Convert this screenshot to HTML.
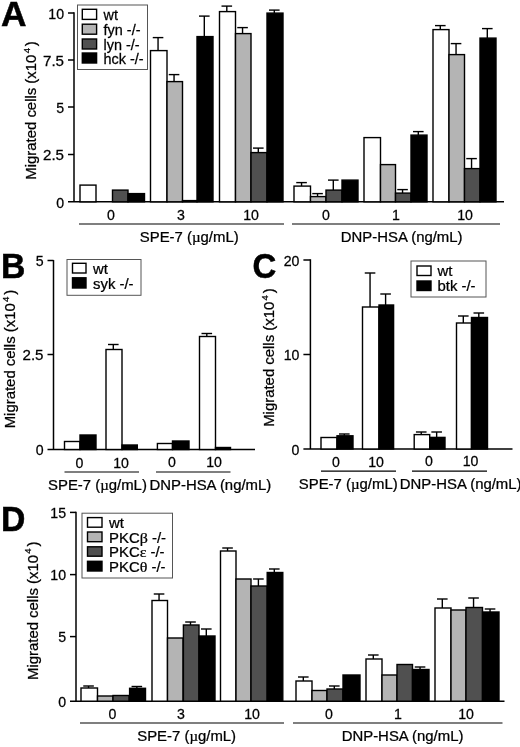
<!DOCTYPE html>
<html><head><meta charset="utf-8"><title>Figure</title>
<style>
html,body{margin:0;padding:0;background:#fff;}
svg{display:block;font-family:"Liberation Sans",sans-serif;fill:#000;}
text{stroke:#000;stroke-width:0.25px;}
</style></head>
<body>
<svg width="520" height="747" viewBox="0 0 520 747">
<rect x="0" y="0" width="520" height="747" fill="#fff"/>
<text transform="translate(1,26) scale(1.03,1)" font-size="34.3" text-anchor="start" font-weight="bold" style="stroke-width:0.5px">A</text>
<line x1="74" y1="12.25" x2="74" y2="201.8" stroke="#000" stroke-width="1.5"/>
<line x1="68" y1="201.8" x2="504" y2="201.8" stroke="#000" stroke-width="1.5"/>
<line x1="68" y1="13" x2="74" y2="13" stroke="#000" stroke-width="1.5"/>
<text transform="translate(64.0,18.8) scale(1.01,1)" font-size="14" text-anchor="end" >10</text>
<line x1="68" y1="60" x2="74" y2="60" stroke="#000" stroke-width="1.5"/>
<text transform="translate(64.0,65.8) scale(1.08,1)" font-size="14" text-anchor="end" >7.5</text>
<line x1="68" y1="107" x2="74" y2="107" stroke="#000" stroke-width="1.5"/>
<text transform="translate(64.0,112.8) scale(1.01,1)" font-size="14" text-anchor="end" >5</text>
<line x1="68" y1="154.5" x2="74" y2="154.5" stroke="#000" stroke-width="1.5"/>
<text transform="translate(64.0,160.3) scale(1.08,1)" font-size="14" text-anchor="end" >2.5</text>
<text transform="translate(64.0,207.60000000000002) scale(1.01,1)" font-size="14" text-anchor="end" >0</text>
<rect x="80" y="185.1" width="16" height="16.700000000000017" fill="#ffffff" stroke="#000" stroke-width="1.4"/>
<rect x="112.5" y="190.1" width="15.5" height="11.700000000000017" fill="#505050" stroke="#000" stroke-width="1.4"/>
<rect x="128" y="193.6" width="16.5" height="8.200000000000017" fill="#000000" stroke="#000" stroke-width="1.4"/>
<line x1="158.05" y1="37.6" x2="158.05" y2="50.6" stroke="#000" stroke-width="1.4"/>
<line x1="152.75" y1="37.6" x2="163.35000000000002" y2="37.6" stroke="#000" stroke-width="1.4"/>
<rect x="150.5" y="50.6" width="16.5" height="151.20000000000002" fill="#ffffff" stroke="#000" stroke-width="1.4"/>
<line x1="174.05" y1="74.6" x2="174.05" y2="81.6" stroke="#000" stroke-width="1.4"/>
<line x1="168.75" y1="74.6" x2="179.35000000000002" y2="74.6" stroke="#000" stroke-width="1.4"/>
<rect x="167" y="81.6" width="15.5" height="120.20000000000002" fill="#b4b4b4" stroke="#000" stroke-width="1.4"/>
<rect x="182.5" y="200.6" width="14.5" height="1.200000000000017" fill="#505050" stroke="#000" stroke-width="1.4"/>
<line x1="204.3" y1="16.1" x2="204.3" y2="36.6" stroke="#000" stroke-width="1.4"/>
<line x1="199.0" y1="16.1" x2="209.60000000000002" y2="16.1" stroke="#000" stroke-width="1.4"/>
<rect x="197" y="36.6" width="16" height="165.20000000000002" fill="#000000" stroke="#000" stroke-width="1.4"/>
<line x1="226.8" y1="6.1" x2="226.8" y2="11.6" stroke="#000" stroke-width="1.4"/>
<line x1="221.5" y1="6.1" x2="232.10000000000002" y2="6.1" stroke="#000" stroke-width="1.4"/>
<rect x="219.5" y="11.6" width="16.0" height="190.20000000000002" fill="#ffffff" stroke="#000" stroke-width="1.4"/>
<line x1="242.55" y1="27.6" x2="242.55" y2="33.6" stroke="#000" stroke-width="1.4"/>
<line x1="237.25" y1="27.6" x2="247.85000000000002" y2="27.6" stroke="#000" stroke-width="1.4"/>
<rect x="235.5" y="33.6" width="15.5" height="168.20000000000002" fill="#b4b4b4" stroke="#000" stroke-width="1.4"/>
<line x1="258.3" y1="148.1" x2="258.3" y2="152.6" stroke="#000" stroke-width="1.4"/>
<line x1="253.0" y1="148.1" x2="263.6" y2="148.1" stroke="#000" stroke-width="1.4"/>
<rect x="251" y="152.6" width="16" height="49.20000000000002" fill="#505050" stroke="#000" stroke-width="1.4"/>
<line x1="274.3" y1="10.1" x2="274.3" y2="13.1" stroke="#000" stroke-width="1.4"/>
<line x1="269.0" y1="10.1" x2="279.6" y2="10.1" stroke="#000" stroke-width="1.4"/>
<rect x="267" y="13.1" width="16" height="188.70000000000002" fill="#000000" stroke="#000" stroke-width="1.4"/>
<line x1="301.55" y1="182.6" x2="301.55" y2="186.1" stroke="#000" stroke-width="1.4"/>
<line x1="296.25" y1="182.6" x2="306.85" y2="182.6" stroke="#000" stroke-width="1.4"/>
<rect x="294" y="186.1" width="16.5" height="15.700000000000017" fill="#ffffff" stroke="#000" stroke-width="1.4"/>
<line x1="317.55" y1="193.6" x2="317.55" y2="196.6" stroke="#000" stroke-width="1.4"/>
<line x1="312.25" y1="193.6" x2="322.85" y2="193.6" stroke="#000" stroke-width="1.4"/>
<rect x="310.5" y="196.6" width="15.5" height="5.200000000000017" fill="#b4b4b4" stroke="#000" stroke-width="1.4"/>
<line x1="333.3" y1="180.1" x2="333.3" y2="190.1" stroke="#000" stroke-width="1.4"/>
<line x1="328.0" y1="180.1" x2="338.6" y2="180.1" stroke="#000" stroke-width="1.4"/>
<rect x="326" y="190.1" width="16" height="11.700000000000017" fill="#505050" stroke="#000" stroke-width="1.4"/>
<rect x="342" y="180.1" width="16" height="21.700000000000017" fill="#000000" stroke="#000" stroke-width="1.4"/>
<rect x="364" y="137.6" width="16.5" height="64.20000000000002" fill="#ffffff" stroke="#000" stroke-width="1.4"/>
<rect x="380.5" y="164.6" width="15.0" height="37.20000000000002" fill="#b4b4b4" stroke="#000" stroke-width="1.4"/>
<line x1="402.55" y1="189.6" x2="402.55" y2="193.1" stroke="#000" stroke-width="1.4"/>
<line x1="397.25" y1="189.6" x2="407.85" y2="189.6" stroke="#000" stroke-width="1.4"/>
<rect x="395.5" y="193.1" width="15.5" height="8.700000000000017" fill="#505050" stroke="#000" stroke-width="1.4"/>
<line x1="418.3" y1="131.6" x2="418.3" y2="135.1" stroke="#000" stroke-width="1.4"/>
<line x1="413.0" y1="131.6" x2="423.6" y2="131.6" stroke="#000" stroke-width="1.4"/>
<rect x="411" y="135.1" width="16" height="66.70000000000002" fill="#000000" stroke="#000" stroke-width="1.4"/>
<line x1="440.3" y1="25.6" x2="440.3" y2="29.6" stroke="#000" stroke-width="1.4"/>
<line x1="435.0" y1="25.6" x2="445.6" y2="25.6" stroke="#000" stroke-width="1.4"/>
<rect x="433" y="29.6" width="16" height="172.20000000000002" fill="#ffffff" stroke="#000" stroke-width="1.4"/>
<line x1="456.05" y1="43.6" x2="456.05" y2="54.6" stroke="#000" stroke-width="1.4"/>
<line x1="450.75" y1="43.6" x2="461.35" y2="43.6" stroke="#000" stroke-width="1.4"/>
<rect x="449" y="54.6" width="15.5" height="147.20000000000002" fill="#b4b4b4" stroke="#000" stroke-width="1.4"/>
<line x1="471.55" y1="158.6" x2="471.55" y2="168.6" stroke="#000" stroke-width="1.4"/>
<line x1="466.25" y1="158.6" x2="476.85" y2="158.6" stroke="#000" stroke-width="1.4"/>
<rect x="464.5" y="168.6" width="15.5" height="33.20000000000002" fill="#505050" stroke="#000" stroke-width="1.4"/>
<line x1="487.3" y1="28.6" x2="487.3" y2="38.1" stroke="#000" stroke-width="1.4"/>
<line x1="482.0" y1="28.6" x2="492.6" y2="28.6" stroke="#000" stroke-width="1.4"/>
<rect x="480" y="38.1" width="16" height="163.70000000000002" fill="#000000" stroke="#000" stroke-width="1.4"/>
<text transform="translate(111,219.6) scale(1.01,1)" font-size="14" text-anchor="middle" >0</text>
<text transform="translate(181,219.6) scale(1.01,1)" font-size="14" text-anchor="middle" >3</text>
<text transform="translate(251,219.6) scale(1.01,1)" font-size="14" text-anchor="middle" >10</text>
<text transform="translate(326,219.6) scale(1.01,1)" font-size="14" text-anchor="middle" >0</text>
<text transform="translate(396,219.6) scale(1.01,1)" font-size="14" text-anchor="middle" >1</text>
<text transform="translate(465,219.6) scale(1.01,1)" font-size="14" text-anchor="middle" >10</text>
<line x1="79" y1="224" x2="284" y2="224" stroke="#000" stroke-width="1.2"/>
<line x1="292" y1="224" x2="500" y2="224" stroke="#000" stroke-width="1.2"/>
<text transform="translate(139.8,242) scale(1.065,1)" font-size="14" text-anchor="start" >SPE-7 (<tspan font-family="Liberation Serif,serif">µ</tspan>g/mL)</text>
<text transform="translate(340.8,242) scale(1.065,1)" font-size="14" text-anchor="start" >DNP-HSA (ng/mL)</text>
<text transform="translate(36.1,179.7) rotate(-90) scale(1.065,1)" font-size="14" text-anchor="start" >Migrated cells (x10<tspan font-size="9" dy="-6.4" dx="1.2">4</tspan><tspan dy="6.4" dx="1.8">)</tspan></text>
<rect x="77.5" y="5" width="70.0" height="64.5" fill="#fff" stroke="#555" stroke-width="1"/>
<rect x="82.3" y="9.3" width="14.299999999999997" height="10.099999999999998" fill="#ffffff" stroke="#000" stroke-width="1.4"/>
<text transform="translate(103.6,20.2) scale(1.03,1)" font-size="14" text-anchor="start" >wt</text>
<rect x="82.3" y="24.2" width="14.299999999999997" height="10.000000000000004" fill="#b4b4b4" stroke="#000" stroke-width="1.4"/>
<text transform="translate(103.6,35.0) scale(1.03,1)" font-size="14" text-anchor="start" >fyn -/-</text>
<rect x="82.3" y="39" width="14.299999999999997" height="10" fill="#505050" stroke="#000" stroke-width="1.4"/>
<text transform="translate(103.6,49.8) scale(1.03,1)" font-size="14" text-anchor="start" >lyn -/-</text>
<rect x="82.3" y="53" width="14.299999999999997" height="10" fill="#000000" stroke="#000" stroke-width="1.4"/>
<text transform="translate(103.6,63.8) scale(1.03,1)" font-size="14" text-anchor="start" >hck -/-</text>
<text transform="translate(1,277.9) scale(0.985,1)" font-size="34.3" text-anchor="start" font-weight="bold" style="stroke-width:0.5px">B</text>
<line x1="53.5" y1="260.05" x2="53.5" y2="449.5" stroke="#000" stroke-width="1.5"/>
<line x1="47.5" y1="449.5" x2="255" y2="449.5" stroke="#000" stroke-width="1.5"/>
<line x1="47.5" y1="260.5" x2="53.5" y2="260.5" stroke="#000" stroke-width="1.5"/>
<text transform="translate(43.5,266.3) scale(1.01,1)" font-size="14" text-anchor="end" >5</text>
<line x1="47.5" y1="354.5" x2="53.5" y2="354.5" stroke="#000" stroke-width="1.5"/>
<text transform="translate(43.5,360.3) scale(1.08,1)" font-size="14" text-anchor="end" >2.5</text>
<text transform="translate(43.5,455.3) scale(1.01,1)" font-size="14" text-anchor="end" >0</text>
<rect x="64.5" y="441.5" width="15.5" height="8.0" fill="#ffffff" stroke="#000" stroke-width="1.4"/>
<rect x="80" y="435.0" width="16" height="14.5" fill="#000000" stroke="#000" stroke-width="1.4"/>
<line x1="113.3" y1="344.5" x2="113.3" y2="349.5" stroke="#000" stroke-width="1.4"/>
<line x1="108.0" y1="344.5" x2="118.6" y2="344.5" stroke="#000" stroke-width="1.4"/>
<rect x="106" y="349.5" width="16" height="100.0" fill="#ffffff" stroke="#000" stroke-width="1.4"/>
<rect x="122" y="445.0" width="15.300000000000011" height="4.5" fill="#000000" stroke="#000" stroke-width="1.4"/>
<rect x="157.4" y="443.5" width="15.099999999999994" height="6.0" fill="#ffffff" stroke="#000" stroke-width="1.4"/>
<rect x="172.5" y="441.0" width="16.5" height="8.5" fill="#000000" stroke="#000" stroke-width="1.4"/>
<line x1="206.8" y1="333.5" x2="206.8" y2="336.5" stroke="#000" stroke-width="1.4"/>
<line x1="201.5" y1="333.5" x2="212.10000000000002" y2="333.5" stroke="#000" stroke-width="1.4"/>
<rect x="199.5" y="336.5" width="16.0" height="113.0" fill="#ffffff" stroke="#000" stroke-width="1.4"/>
<rect x="215.5" y="447.5" width="15.0" height="2.0" fill="#000000" stroke="#000" stroke-width="1.4"/>
<text transform="translate(79.5,468) scale(1.01,1)" font-size="14" text-anchor="middle" >0</text>
<text transform="translate(121,468) scale(1.01,1)" font-size="14" text-anchor="middle" >10</text>
<text transform="translate(172,466.5) scale(1.01,1)" font-size="14" text-anchor="middle" >0</text>
<text transform="translate(214,466.5) scale(1.01,1)" font-size="14" text-anchor="middle" >10</text>
<line x1="64.5" y1="472" x2="139" y2="472" stroke="#000" stroke-width="1.2"/>
<line x1="156" y1="472" x2="230.5" y2="472" stroke="#000" stroke-width="1.2"/>
<text transform="translate(48,489.5) scale(1.065,1)" font-size="14" text-anchor="start" >SPE-7 (<tspan font-family="Liberation Serif,serif">µ</tspan>g/mL)</text>
<text transform="translate(149.5,489.5) scale(1.065,1)" font-size="14" text-anchor="start" >DNP-HSA (ng/mL)</text>
<text transform="translate(15,428.3) rotate(-90) scale(1.065,1)" font-size="14" text-anchor="start" >Migrated cells (x10<tspan font-size="9" dy="-6.4" dx="1.2">4</tspan><tspan dy="6.4" dx="1.8">)</tspan></text>
<rect x="67" y="259.5" width="74" height="35.80000000000001" fill="#fff" stroke="#555" stroke-width="1"/>
<rect x="72.5" y="263.3" width="13.5" height="9.699999999999989" fill="#ffffff" stroke="#000" stroke-width="1.4"/>
<text transform="translate(93,273.8) scale(1.065,1)" font-size="14" text-anchor="start" >wt</text>
<rect x="72.5" y="277.8" width="13.5" height="10.199999999999989" fill="#000000" stroke="#000" stroke-width="1.4"/>
<text transform="translate(93,288.8) scale(1.065,1)" font-size="14" text-anchor="start" >syk -/-</text>
<text transform="translate(252.5,277.8) scale(0.96,1)" font-size="34.3" text-anchor="start" font-weight="bold" style="stroke-width:0.5px">C</text>
<line x1="310.4" y1="259.25" x2="310.4" y2="449" stroke="#000" stroke-width="1.5"/>
<line x1="303.4" y1="449" x2="512.5" y2="449" stroke="#000" stroke-width="1.5"/>
<line x1="303.4" y1="260" x2="310.4" y2="260" stroke="#000" stroke-width="1.5"/>
<text transform="translate(299.4,265.8) scale(1.01,1)" font-size="14" text-anchor="end" >20</text>
<line x1="303.4" y1="354.5" x2="310.4" y2="354.5" stroke="#000" stroke-width="1.5"/>
<text transform="translate(299.4,360.3) scale(1.01,1)" font-size="14" text-anchor="end" >10</text>
<text transform="translate(299.4,454.8) scale(1.01,1)" font-size="14" text-anchor="end" >0</text>
<rect x="321" y="437.5" width="16" height="11.5" fill="#ffffff" stroke="#000" stroke-width="1.4"/>
<line x1="344.3" y1="434" x2="344.3" y2="435.8" stroke="#000" stroke-width="1.4"/>
<line x1="339.0" y1="434" x2="349.6" y2="434" stroke="#000" stroke-width="1.4"/>
<rect x="337" y="435.8" width="16" height="13.199999999999989" fill="#000000" stroke="#000" stroke-width="1.4"/>
<line x1="370.05" y1="273" x2="370.05" y2="307" stroke="#000" stroke-width="1.4"/>
<line x1="364.75" y1="273" x2="375.35" y2="273" stroke="#000" stroke-width="1.4"/>
<rect x="362.5" y="307" width="16.5" height="142" fill="#ffffff" stroke="#000" stroke-width="1.4"/>
<line x1="385.6" y1="294" x2="385.6" y2="305" stroke="#000" stroke-width="1.4"/>
<line x1="380.3" y1="294" x2="390.90000000000003" y2="294" stroke="#000" stroke-width="1.4"/>
<rect x="379" y="305" width="14.600000000000023" height="144" fill="#000000" stroke="#000" stroke-width="1.4"/>
<line x1="421.25" y1="432" x2="421.25" y2="434.6" stroke="#000" stroke-width="1.4"/>
<line x1="415.95" y1="432" x2="426.55" y2="432" stroke="#000" stroke-width="1.4"/>
<rect x="414.2" y="434.6" width="15.5" height="14.399999999999977" fill="#ffffff" stroke="#000" stroke-width="1.4"/>
<line x1="436.65000000000003" y1="432" x2="436.65000000000003" y2="437.4" stroke="#000" stroke-width="1.4"/>
<line x1="431.35" y1="432" x2="441.95000000000005" y2="432" stroke="#000" stroke-width="1.4"/>
<rect x="429.7" y="437.4" width="15.300000000000011" height="11.600000000000023" fill="#000000" stroke="#000" stroke-width="1.4"/>
<line x1="463.3" y1="316" x2="463.3" y2="323" stroke="#000" stroke-width="1.4"/>
<line x1="458.0" y1="316" x2="468.6" y2="316" stroke="#000" stroke-width="1.4"/>
<rect x="456.5" y="323" width="15.0" height="126" fill="#ffffff" stroke="#000" stroke-width="1.4"/>
<line x1="478.8" y1="313" x2="478.8" y2="317.5" stroke="#000" stroke-width="1.4"/>
<line x1="473.5" y1="313" x2="484.1" y2="313" stroke="#000" stroke-width="1.4"/>
<rect x="471.5" y="317.5" width="16.0" height="131.5" fill="#000000" stroke="#000" stroke-width="1.4"/>
<text transform="translate(336,467.4) scale(1.01,1)" font-size="14" text-anchor="middle" >0</text>
<text transform="translate(376,467.4) scale(1.01,1)" font-size="14" text-anchor="middle" >10</text>
<text transform="translate(429,466.2) scale(1.01,1)" font-size="14" text-anchor="middle" >0</text>
<text transform="translate(470.5,466.2) scale(1.01,1)" font-size="14" text-anchor="middle" >10</text>
<line x1="321" y1="471.1" x2="396" y2="471.1" stroke="#000" stroke-width="1.2"/>
<line x1="412" y1="471.1" x2="487" y2="471.1" stroke="#000" stroke-width="1.2"/>
<text transform="translate(298.8,489) scale(1.065,1)" font-size="14" text-anchor="start" >SPE-7 (<tspan font-family="Liberation Serif,serif">µ</tspan>g/mL)</text>
<text transform="translate(399.8,489) scale(1.065,1)" font-size="14" text-anchor="start" >DNP-HSA (ng/mL)</text>
<text transform="translate(274,426.8) rotate(-90) scale(1.065,1)" font-size="14" text-anchor="start" >Migrated cells (x10<tspan font-size="9" dy="-6.4" dx="1.2">4</tspan><tspan dy="6.4" dx="1.8">)</tspan></text>
<rect x="411" y="261" width="75" height="36" fill="#fff" stroke="#555" stroke-width="1"/>
<rect x="417" y="266" width="14" height="9.5" fill="#ffffff" stroke="#000" stroke-width="1.4"/>
<text transform="translate(437.5,276.3) scale(1.065,1)" font-size="14" text-anchor="start" >wt</text>
<rect x="417" y="281" width="14" height="9.5" fill="#000000" stroke="#000" stroke-width="1.4"/>
<text transform="translate(437.5,291.3) scale(1.065,1)" font-size="14" text-anchor="start" >btk -/-</text>
<text transform="translate(1,530.9) scale(0.985,1)" font-size="34.3" text-anchor="start" font-weight="bold" style="stroke-width:0.5px">D</text>
<line x1="76" y1="511.65" x2="76" y2="701.2" stroke="#000" stroke-width="1.5"/>
<line x1="70" y1="701.2" x2="504.5" y2="701.2" stroke="#000" stroke-width="1.5"/>
<line x1="70" y1="512.4" x2="76" y2="512.4" stroke="#000" stroke-width="1.5"/>
<text transform="translate(66.0,518.1999999999999) scale(1.01,1)" font-size="14" text-anchor="end" >15</text>
<line x1="70" y1="574.6" x2="76" y2="574.6" stroke="#000" stroke-width="1.5"/>
<text transform="translate(66.0,580.4) scale(1.01,1)" font-size="14" text-anchor="end" >10</text>
<line x1="70" y1="636.6" x2="76" y2="636.6" stroke="#000" stroke-width="1.5"/>
<text transform="translate(66.0,642.4) scale(1.01,1)" font-size="14" text-anchor="end" >5</text>
<text transform="translate(66.0,707.0) scale(1.01,1)" font-size="14" text-anchor="end" >0</text>
<line x1="88.55" y1="686" x2="88.55" y2="688" stroke="#000" stroke-width="1.4"/>
<line x1="83.25" y1="686" x2="93.85" y2="686" stroke="#000" stroke-width="1.4"/>
<rect x="81" y="688" width="16.5" height="13.200000000000045" fill="#ffffff" stroke="#000" stroke-width="1.4"/>
<rect x="97.5" y="696" width="15.5" height="5.2000000000000455" fill="#b4b4b4" stroke="#000" stroke-width="1.4"/>
<rect x="113" y="695.5" width="16" height="5.7000000000000455" fill="#505050" stroke="#000" stroke-width="1.4"/>
<line x1="136.85000000000002" y1="686.5" x2="136.85000000000002" y2="688.3" stroke="#000" stroke-width="1.4"/>
<line x1="131.55" y1="686.5" x2="142.15000000000003" y2="686.5" stroke="#000" stroke-width="1.4"/>
<rect x="129.6" y="688.3" width="15.900000000000006" height="12.900000000000091" fill="#000000" stroke="#000" stroke-width="1.4"/>
<line x1="159.05" y1="594" x2="159.05" y2="600.5" stroke="#000" stroke-width="1.4"/>
<line x1="153.75" y1="594" x2="164.35000000000002" y2="594" stroke="#000" stroke-width="1.4"/>
<rect x="152" y="600.5" width="15.5" height="100.70000000000005" fill="#ffffff" stroke="#000" stroke-width="1.4"/>
<rect x="167.5" y="638" width="15.5" height="63.200000000000045" fill="#b4b4b4" stroke="#000" stroke-width="1.4"/>
<line x1="190.5" y1="622" x2="190.5" y2="625" stroke="#000" stroke-width="1.4"/>
<line x1="185.2" y1="622" x2="195.8" y2="622" stroke="#000" stroke-width="1.4"/>
<rect x="183.4" y="625" width="15.599999999999994" height="76.20000000000005" fill="#505050" stroke="#000" stroke-width="1.4"/>
<line x1="206.3" y1="629" x2="206.3" y2="636" stroke="#000" stroke-width="1.4"/>
<line x1="201.0" y1="629" x2="211.60000000000002" y2="629" stroke="#000" stroke-width="1.4"/>
<rect x="199" y="636" width="16" height="65.20000000000005" fill="#000000" stroke="#000" stroke-width="1.4"/>
<line x1="227.55" y1="548" x2="227.55" y2="551" stroke="#000" stroke-width="1.4"/>
<line x1="222.25" y1="548" x2="232.85000000000002" y2="548" stroke="#000" stroke-width="1.4"/>
<rect x="220.5" y="551" width="15.5" height="150.20000000000005" fill="#ffffff" stroke="#000" stroke-width="1.4"/>
<rect x="236" y="579" width="15" height="122.20000000000005" fill="#b4b4b4" stroke="#000" stroke-width="1.4"/>
<line x1="258.40000000000003" y1="579" x2="258.40000000000003" y2="586" stroke="#000" stroke-width="1.4"/>
<line x1="253.10000000000002" y1="579" x2="263.70000000000005" y2="579" stroke="#000" stroke-width="1.4"/>
<rect x="251" y="586" width="16.19999999999999" height="115.20000000000005" fill="#505050" stroke="#000" stroke-width="1.4"/>
<line x1="274.3" y1="569" x2="274.3" y2="572.5" stroke="#000" stroke-width="1.4"/>
<line x1="269.0" y1="569" x2="279.6" y2="569" stroke="#000" stroke-width="1.4"/>
<rect x="267.2" y="572.5" width="15.600000000000023" height="128.70000000000005" fill="#000000" stroke="#000" stroke-width="1.4"/>
<line x1="303.3" y1="677" x2="303.3" y2="681" stroke="#000" stroke-width="1.4"/>
<line x1="298.0" y1="677" x2="308.6" y2="677" stroke="#000" stroke-width="1.4"/>
<rect x="296" y="681" width="16" height="20.200000000000045" fill="#ffffff" stroke="#000" stroke-width="1.4"/>
<rect x="312" y="690.5" width="15" height="10.700000000000045" fill="#b4b4b4" stroke="#000" stroke-width="1.4"/>
<line x1="334.3" y1="686" x2="334.3" y2="689" stroke="#000" stroke-width="1.4"/>
<line x1="329.0" y1="686" x2="339.6" y2="686" stroke="#000" stroke-width="1.4"/>
<rect x="327" y="689" width="16" height="12.200000000000045" fill="#505050" stroke="#000" stroke-width="1.4"/>
<rect x="343" y="675" width="17" height="26.200000000000045" fill="#000000" stroke="#000" stroke-width="1.4"/>
<line x1="373.3" y1="655" x2="373.3" y2="659" stroke="#000" stroke-width="1.4"/>
<line x1="368.0" y1="655" x2="378.6" y2="655" stroke="#000" stroke-width="1.4"/>
<rect x="366" y="659" width="16" height="42.200000000000045" fill="#ffffff" stroke="#000" stroke-width="1.4"/>
<rect x="382" y="675" width="15" height="26.200000000000045" fill="#b4b4b4" stroke="#000" stroke-width="1.4"/>
<rect x="397" y="664.5" width="15.5" height="36.700000000000045" fill="#505050" stroke="#000" stroke-width="1.4"/>
<line x1="420.05" y1="667" x2="420.05" y2="669.5" stroke="#000" stroke-width="1.4"/>
<line x1="414.75" y1="667" x2="425.35" y2="667" stroke="#000" stroke-width="1.4"/>
<rect x="412.5" y="669.5" width="16.5" height="31.700000000000045" fill="#000000" stroke="#000" stroke-width="1.4"/>
<line x1="442.3" y1="599" x2="442.3" y2="608" stroke="#000" stroke-width="1.4"/>
<line x1="437.0" y1="599" x2="447.6" y2="599" stroke="#000" stroke-width="1.4"/>
<rect x="435" y="608" width="16" height="93.20000000000005" fill="#ffffff" stroke="#000" stroke-width="1.4"/>
<rect x="451" y="610" width="15" height="91.20000000000005" fill="#b4b4b4" stroke="#000" stroke-width="1.4"/>
<line x1="473.55" y1="598" x2="473.55" y2="607.5" stroke="#000" stroke-width="1.4"/>
<line x1="468.25" y1="598" x2="478.85" y2="598" stroke="#000" stroke-width="1.4"/>
<rect x="466" y="607.5" width="16.5" height="93.70000000000005" fill="#505050" stroke="#000" stroke-width="1.4"/>
<line x1="490.05" y1="609" x2="490.05" y2="612" stroke="#000" stroke-width="1.4"/>
<line x1="484.75" y1="609" x2="495.35" y2="609" stroke="#000" stroke-width="1.4"/>
<rect x="482.5" y="612" width="16.5" height="89.20000000000005" fill="#000000" stroke="#000" stroke-width="1.4"/>
<text transform="translate(112.5,718.6) scale(1.01,1)" font-size="14" text-anchor="middle" >0</text>
<text transform="translate(181,718.6) scale(1.01,1)" font-size="14" text-anchor="middle" >3</text>
<text transform="translate(252,718.6) scale(1.01,1)" font-size="14" text-anchor="middle" >10</text>
<text transform="translate(329,718.6) scale(1.01,1)" font-size="14" text-anchor="middle" >0</text>
<text transform="translate(398,718.6) scale(1.01,1)" font-size="14" text-anchor="middle" >1</text>
<text transform="translate(466,718.6) scale(1.01,1)" font-size="14" text-anchor="middle" >10</text>
<line x1="80" y1="723" x2="284" y2="723" stroke="#000" stroke-width="1.2"/>
<line x1="293" y1="723" x2="502.5" y2="723" stroke="#000" stroke-width="1.2"/>
<text transform="translate(137.2,741) scale(1.065,1)" font-size="14" text-anchor="start" >SPE-7 (<tspan font-family="Liberation Serif,serif">µ</tspan>g/mL)</text>
<text transform="translate(341.7,741) scale(1.065,1)" font-size="14" text-anchor="start" >DNP-HSA (ng/mL)</text>
<text transform="translate(37.7,680) rotate(-90) scale(1.065,1)" font-size="14" text-anchor="start" >Migrated cells (x10<tspan font-size="9" dy="-6.4" dx="1.2">4</tspan><tspan dy="6.4" dx="1.8">)</tspan></text>
<rect x="82" y="513.2" width="90.5" height="64.79999999999995" fill="#fff" stroke="#555" stroke-width="1"/>
<rect x="87.5" y="517.6" width="14.5" height="9.600000000000023" fill="#ffffff" stroke="#000" stroke-width="1.4"/>
<text transform="translate(109,528.0) scale(1.065,1)" font-size="14" text-anchor="start" >wt</text>
<rect x="87.5" y="532" width="14.5" height="9.700000000000045" fill="#b4b4b4" stroke="#000" stroke-width="1.4"/>
<text transform="translate(109,542.5) scale(1.065,1)" font-size="14" text-anchor="start" >PKC<tspan font-family="Liberation Serif,serif" font-size="15">β</tspan> -/-</text>
<rect x="87.5" y="546.8" width="14.5" height="9.400000000000091" fill="#505050" stroke="#000" stroke-width="1.4"/>
<text transform="translate(109,557.0) scale(1.065,1)" font-size="14" text-anchor="start" >PKC<tspan font-family="Liberation Serif,serif" font-size="15">ε</tspan> -/-</text>
<rect x="87.5" y="561.3" width="14.5" height="9.700000000000045" fill="#000000" stroke="#000" stroke-width="1.4"/>
<text transform="translate(109,571.8) scale(1.065,1)" font-size="14" text-anchor="start" >PKC<tspan font-family="Liberation Serif,serif" font-size="15">θ</tspan> -/-</text>
</svg>
</body></html>
